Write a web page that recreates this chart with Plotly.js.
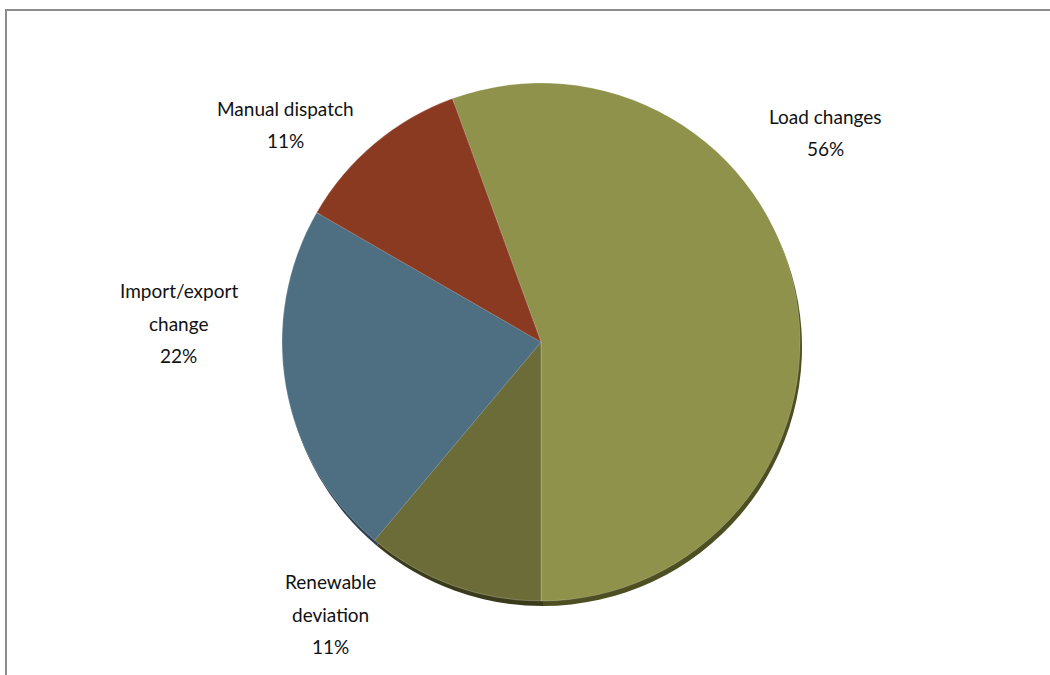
<!DOCTYPE html>
<html>
<head>
<meta charset="utf-8">
<script src="https://cdn.plot.ly/plotly-3.0.1.min.js"></script>
<style>
html,body{margin:0;padding:0;background:#fff;overflow:hidden;}
#frame{position:absolute;left:5px;top:9px;width:1045px;height:666px;border-left:2px solid #8c8c8c;border-top:2px solid #8c8c8c;box-sizing:border-box;}
#chart{position:absolute;left:0;top:0;width:1050px;height:675px;}
</style>
</head>
<body>
<div id="frame"></div>
<div id="chart"></div>
<script>
// Data
var categories = ["Load changes", "Renewable deviation", "Import/export change", "Manual dispatch"];
var labelLines = [["Load changes"], ["Renewable", "deviation"], ["Import/export", "change"], ["Manual dispatch"]];
var values = [5, 1, 2, 1];
var colors = ["#8f924a", "#6b6c37", "#4e6e82", "#8b3a22"];
var shadowColors = ["#4d4f22", "#3a3b1b", "#2a3e4b", "#4a1f12"];
// first-line centers of each label (paper coords)
var labelPos = [[0.786, 0.8281], [0.315, 0.1378], [0.170, 0.5689], [0.272, 0.8400]];

var W = 1050, H = 675;
var cx = 541, cy = 342, r = 259;
var dom = {x: [(cx - r) / W, (cx + r) / W], y: [1 - (cy + r) / H, 1 - (cy - r) / H]};
var sdx = 2 / W, sdy = 5 / H;

var shadow = {
  type: "pie", values: values, labels: categories, sort: false, direction: "clockwise",
  rotation: -20, textinfo: "none", hoverinfo: "skip", showlegend: false,
  marker: {colors: shadowColors, line: {width: 0}},
  domain: {x: [dom.x[0] + sdx, dom.x[1] + sdx], y: [dom.y[0] - sdy, dom.y[1] - sdy]}
};
var pie = {
  type: "pie", values: values, labels: categories, sort: false, direction: "clockwise",
  rotation: -20, textinfo: "none", showlegend: false,
  marker: {colors: colors, line: {width: 0.6, color: "rgba(255,255,255,0.35)"}},
  domain: dom
};

var total = values.reduce(function(a, b){ return a + b; }, 0);
var annotations = [];
var lineStep = 32.5 / H;
categories.forEach(function(c, i){
  var lines = labelLines[i].concat([Math.round(values[i] / total * 100) + "%"]);
  lines.forEach(function(t, k){
    annotations.push({
      text: t, showarrow: false, xref: "paper", yref: "paper",
      x: labelPos[i][0], y: labelPos[i][1] - k * lineStep,
      xanchor: "center", yanchor: "middle",
      font: {family: "Lato, 'Open Sans', sans-serif", size: 19, color: "#111"}
    });
  });
});

var layout = {
  width: W, height: H,
  margin: {l: 0, r: 0, t: 0, b: 0},
  paper_bgcolor: "rgba(0,0,0,0)", plot_bgcolor: "rgba(0,0,0,0)",
  showlegend: false,
  annotations: annotations
};
Plotly.newPlot("chart", [shadow, pie], layout, {displayModeBar: false, staticPlot: true});
</script>
</body>
</html>
